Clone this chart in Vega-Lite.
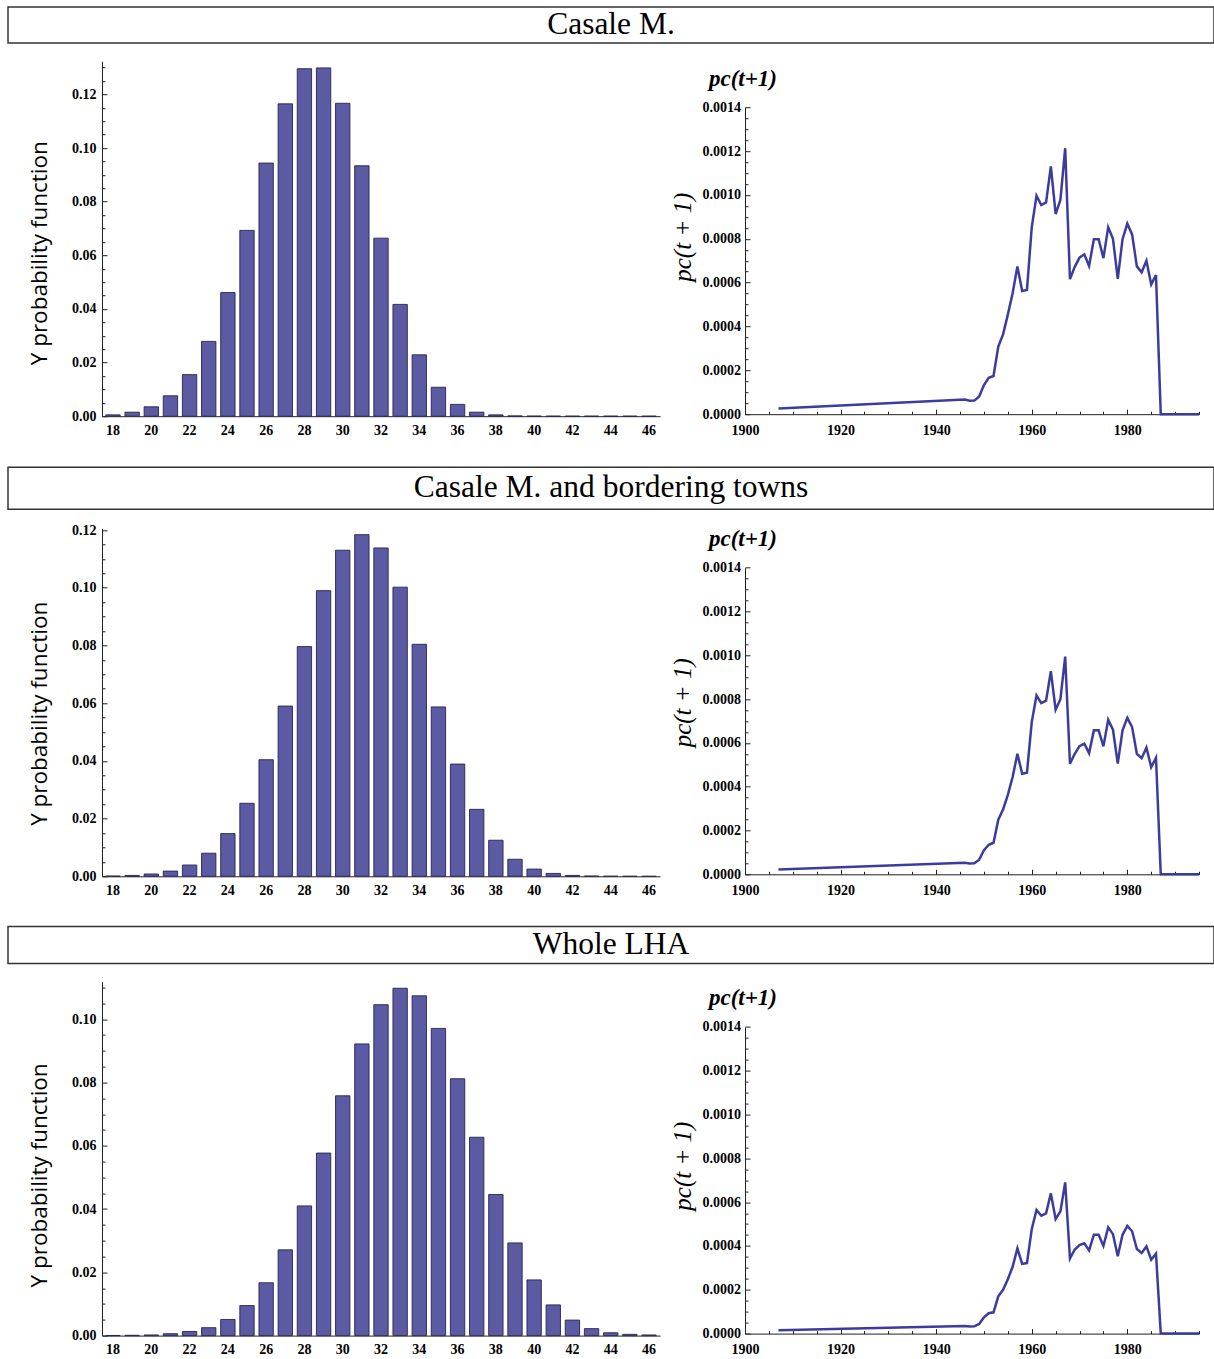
{
  "$schema": "https://vega.github.io/schema/vega-lite/v6.json",
  "padding": {"left": 7, "top": 6, "right": 0, "bottom": 0},
  "background": "white",
  "spacing": 26.3,
  "config": {
    "view": {"stroke": null},
    "axis": {
      "grid": false,
      "labelFont": "Liberation Serif",
      "labelFontWeight": "bold",
      "labelFontSize": 14,
      "labelColor": "black",
      "labelFlush": false,
      "domainColor": "#222",
      "domainWidth": 1,
      "tickColor": "#222",
      "tickWidth": 1,
      "labelOverlap": false
    }
  },
  "datasets": {
    "regions": [
      {"region": "Casale M."},
      {"region": "Casale M. and bordering towns"},
      {"region": "Whole LHA"}
    ],
    "pmf": [
      {"region": "Casale M.", "age": 18, "p": 0.0005},
      {"region": "Casale M.", "age": 19, "p": 0.0015},
      {"region": "Casale M.", "age": 20, "p": 0.0035},
      {"region": "Casale M.", "age": 21, "p": 0.0076},
      {"region": "Casale M.", "age": 22, "p": 0.0155},
      {"region": "Casale M.", "age": 23, "p": 0.0279},
      {"region": "Casale M.", "age": 24, "p": 0.0461},
      {"region": "Casale M.", "age": 25, "p": 0.0693},
      {"region": "Casale M.", "age": 26, "p": 0.0944},
      {"region": "Casale M.", "age": 27, "p": 0.1165},
      {"region": "Casale M.", "age": 28, "p": 0.1296},
      {"region": "Casale M.", "age": 29, "p": 0.1299},
      {"region": "Casale M.", "age": 30, "p": 0.1167},
      {"region": "Casale M.", "age": 31, "p": 0.0934},
      {"region": "Casale M.", "age": 32, "p": 0.0664},
      {"region": "Casale M.", "age": 33, "p": 0.0417},
      {"region": "Casale M.", "age": 34, "p": 0.0229},
      {"region": "Casale M.", "age": 35, "p": 0.0108},
      {"region": "Casale M.", "age": 36, "p": 0.0044},
      {"region": "Casale M.", "age": 37, "p": 0.0015},
      {"region": "Casale M.", "age": 38, "p": 0.0005},
      {"region": "Casale M.", "age": 39, "p": 0.0001},
      {"region": "Casale M.", "age": 40, "p": 0.00003},
      {"region": "Casale M.", "age": 41, "p": 0.00001},
      {"region": "Casale M.", "age": 42, "p": 0},
      {"region": "Casale M.", "age": 43, "p": 0},
      {"region": "Casale M.", "age": 44, "p": 0},
      {"region": "Casale M.", "age": 45, "p": 0},
      {"region": "Casale M.", "age": 46, "p": 0},
      {"region": "Casale M. and bordering towns", "age": 18, "p": 0.0001},
      {"region": "Casale M. and bordering towns", "age": 19, "p": 0.0003},
      {"region": "Casale M. and bordering towns", "age": 20, "p": 0.0008},
      {"region": "Casale M. and bordering towns", "age": 21, "p": 0.0018},
      {"region": "Casale M. and bordering towns", "age": 22, "p": 0.0039},
      {"region": "Casale M. and bordering towns", "age": 23, "p": 0.008},
      {"region": "Casale M. and bordering towns", "age": 24, "p": 0.0148},
      {"region": "Casale M. and bordering towns", "age": 25, "p": 0.0253},
      {"region": "Casale M. and bordering towns", "age": 26, "p": 0.0404},
      {"region": "Casale M. and bordering towns", "age": 27, "p": 0.059},
      {"region": "Casale M. and bordering towns", "age": 28, "p": 0.0796},
      {"region": "Casale M. and bordering towns", "age": 29, "p": 0.099},
      {"region": "Casale M. and bordering towns", "age": 30, "p": 0.113},
      {"region": "Casale M. and bordering towns", "age": 31, "p": 0.1184},
      {"region": "Casale M. and bordering towns", "age": 32, "p": 0.1138},
      {"region": "Casale M. and bordering towns", "age": 33, "p": 0.1002},
      {"region": "Casale M. and bordering towns", "age": 34, "p": 0.0804},
      {"region": "Casale M. and bordering towns", "age": 35, "p": 0.0587},
      {"region": "Casale M. and bordering towns", "age": 36, "p": 0.0389},
      {"region": "Casale M. and bordering towns", "age": 37, "p": 0.0232},
      {"region": "Casale M. and bordering towns", "age": 38, "p": 0.0125},
      {"region": "Casale M. and bordering towns", "age": 39, "p": 0.0059},
      {"region": "Casale M. and bordering towns", "age": 40, "p": 0.0025},
      {"region": "Casale M. and bordering towns", "age": 41, "p": 0.001},
      {"region": "Casale M. and bordering towns", "age": 42, "p": 0.0003},
      {"region": "Casale M. and bordering towns", "age": 43, "p": 0.0001},
      {"region": "Casale M. and bordering towns", "age": 44, "p": 0.00003},
      {"region": "Casale M. and bordering towns", "age": 45, "p": 0.00001},
      {"region": "Casale M. and bordering towns", "age": 46, "p": 0},
      {"region": "Whole LHA", "age": 18, "p": 0.00005},
      {"region": "Whole LHA", "age": 19, "p": 0.0001},
      {"region": "Whole LHA", "age": 20, "p": 0.0002},
      {"region": "Whole LHA", "age": 21, "p": 0.0006},
      {"region": "Whole LHA", "age": 22, "p": 0.0013},
      {"region": "Whole LHA", "age": 23, "p": 0.0025},
      {"region": "Whole LHA", "age": 24, "p": 0.0051},
      {"region": "Whole LHA", "age": 25, "p": 0.0095},
      {"region": "Whole LHA", "age": 26, "p": 0.0167},
      {"region": "Whole LHA", "age": 27, "p": 0.0271},
      {"region": "Whole LHA", "age": 28, "p": 0.041},
      {"region": "Whole LHA", "age": 29, "p": 0.0577},
      {"region": "Whole LHA", "age": 30, "p": 0.0758},
      {"region": "Whole LHA", "age": 31, "p": 0.0922},
      {"region": "Whole LHA", "age": 32, "p": 0.1046},
      {"region": "Whole LHA", "age": 33, "p": 0.1098},
      {"region": "Whole LHA", "age": 34, "p": 0.1074},
      {"region": "Whole LHA", "age": 35, "p": 0.0971},
      {"region": "Whole LHA", "age": 36, "p": 0.0812},
      {"region": "Whole LHA", "age": 37, "p": 0.0627},
      {"region": "Whole LHA", "age": 38, "p": 0.0446},
      {"region": "Whole LHA", "age": 39, "p": 0.0293},
      {"region": "Whole LHA", "age": 40, "p": 0.0176},
      {"region": "Whole LHA", "age": 41, "p": 0.0097},
      {"region": "Whole LHA", "age": 42, "p": 0.0049},
      {"region": "Whole LHA", "age": 43, "p": 0.0022},
      {"region": "Whole LHA", "age": 44, "p": 0.0009},
      {"region": "Whole LHA", "age": 45, "p": 0.0004},
      {"region": "Whole LHA", "age": 46, "p": 0.0002}
    ],
    "pc": [
      {"region": "Casale M.", "year": 1907, "pc": 0.000026},
      {"region": "Casale M.", "year": 1946, "pc": 0.0000667},
      {"region": "Casale M.", "year": 1947, "pc": 0.000061},
      {"region": "Casale M.", "year": 1948, "pc": 0.000062},
      {"region": "Casale M.", "year": 1949, "pc": 0.000081},
      {"region": "Casale M.", "year": 1950, "pc": 0.000133},
      {"region": "Casale M.", "year": 1951, "pc": 0.000166},
      {"region": "Casale M.", "year": 1952, "pc": 0.000174},
      {"region": "Casale M.", "year": 1953, "pc": 0.000308},
      {"region": "Casale M.", "year": 1954, "pc": 0.000364},
      {"region": "Casale M.", "year": 1955, "pc": 0.000454},
      {"region": "Casale M.", "year": 1956, "pc": 0.000552},
      {"region": "Casale M.", "year": 1957, "pc": 0.000674},
      {"region": "Casale M.", "year": 1958, "pc": 0.000562},
      {"region": "Casale M.", "year": 1959, "pc": 0.000567},
      {"region": "Casale M.", "year": 1960, "pc": 0.000852},
      {"region": "Casale M.", "year": 1961, "pc": 0.000996},
      {"region": "Casale M.", "year": 1962, "pc": 0.000954},
      {"region": "Casale M.", "year": 1963, "pc": 0.000966},
      {"region": "Casale M.", "year": 1964, "pc": 0.00113},
      {"region": "Casale M.", "year": 1965, "pc": 0.000913},
      {"region": "Casale M.", "year": 1966, "pc": 0.000977},
      {"region": "Casale M.", "year": 1967, "pc": 0.001213},
      {"region": "Casale M.", "year": 1968, "pc": 0.000616},
      {"region": "Casale M.", "year": 1969, "pc": 0.000672},
      {"region": "Casale M.", "year": 1970, "pc": 0.000714},
      {"region": "Casale M.", "year": 1971, "pc": 0.000729},
      {"region": "Casale M.", "year": 1972, "pc": 0.000676},
      {"region": "Casale M.", "year": 1973, "pc": 0.000798},
      {"region": "Casale M.", "year": 1974, "pc": 0.000798},
      {"region": "Casale M.", "year": 1975, "pc": 0.000712},
      {"region": "Casale M.", "year": 1976, "pc": 0.000852},
      {"region": "Casale M.", "year": 1977, "pc": 0.0008},
      {"region": "Casale M.", "year": 1978, "pc": 0.000617},
      {"region": "Casale M.", "year": 1979, "pc": 0.000798},
      {"region": "Casale M.", "year": 1980, "pc": 0.000869},
      {"region": "Casale M.", "year": 1981, "pc": 0.00082},
      {"region": "Casale M.", "year": 1982, "pc": 0.000674},
      {"region": "Casale M.", "year": 1983, "pc": 0.000647},
      {"region": "Casale M.", "year": 1984, "pc": 0.0007},
      {"region": "Casale M.", "year": 1985, "pc": 0.000592},
      {"region": "Casale M.", "year": 1986, "pc": 0.000635},
      {"region": "Casale M.", "year": 1987, "pc": 0},
      {"region": "Casale M.", "year": 1995, "pc": 0},
      {"region": "Casale M. and bordering towns", "year": 1907, "pc": 0.000022},
      {"region": "Casale M. and bordering towns", "year": 1946, "pc": 0.000053},
      {"region": "Casale M. and bordering towns", "year": 1947, "pc": 0.000049},
      {"region": "Casale M. and bordering towns", "year": 1948, "pc": 0.00005},
      {"region": "Casale M. and bordering towns", "year": 1949, "pc": 0.000067},
      {"region": "Casale M. and bordering towns", "year": 1950, "pc": 0.00011},
      {"region": "Casale M. and bordering towns", "year": 1951, "pc": 0.000135},
      {"region": "Casale M. and bordering towns", "year": 1952, "pc": 0.000144},
      {"region": "Casale M. and bordering towns", "year": 1953, "pc": 0.000249},
      {"region": "Casale M. and bordering towns", "year": 1954, "pc": 0.000296},
      {"region": "Casale M. and bordering towns", "year": 1955, "pc": 0.000363},
      {"region": "Casale M. and bordering towns", "year": 1956, "pc": 0.000444},
      {"region": "Casale M. and bordering towns", "year": 1957, "pc": 0.00055},
      {"region": "Casale M. and bordering towns", "year": 1958, "pc": 0.000459},
      {"region": "Casale M. and bordering towns", "year": 1959, "pc": 0.000464},
      {"region": "Casale M. and bordering towns", "year": 1960, "pc": 0.000695},
      {"region": "Casale M. and bordering towns", "year": 1961, "pc": 0.000816},
      {"region": "Casale M. and bordering towns", "year": 1962, "pc": 0.000781},
      {"region": "Casale M. and bordering towns", "year": 1963, "pc": 0.000793},
      {"region": "Casale M. and bordering towns", "year": 1964, "pc": 0.000927},
      {"region": "Casale M. and bordering towns", "year": 1965, "pc": 0.000751},
      {"region": "Casale M. and bordering towns", "year": 1966, "pc": 0.000799},
      {"region": "Casale M. and bordering towns", "year": 1967, "pc": 0.000994},
      {"region": "Casale M. and bordering towns", "year": 1968, "pc": 0.000505},
      {"region": "Casale M. and bordering towns", "year": 1969, "pc": 0.00055},
      {"region": "Casale M. and bordering towns", "year": 1970, "pc": 0.000585},
      {"region": "Casale M. and bordering towns", "year": 1971, "pc": 0.000596},
      {"region": "Casale M. and bordering towns", "year": 1972, "pc": 0.000553},
      {"region": "Casale M. and bordering towns", "year": 1973, "pc": 0.000657},
      {"region": "Casale M. and bordering towns", "year": 1974, "pc": 0.000657},
      {"region": "Casale M. and bordering towns", "year": 1975, "pc": 0.000584},
      {"region": "Casale M. and bordering towns", "year": 1976, "pc": 0.000705},
      {"region": "Casale M. and bordering towns", "year": 1977, "pc": 0.00066},
      {"region": "Casale M. and bordering towns", "year": 1978, "pc": 0.000505},
      {"region": "Casale M. and bordering towns", "year": 1979, "pc": 0.000657},
      {"region": "Casale M. and bordering towns", "year": 1980, "pc": 0.000714},
      {"region": "Casale M. and bordering towns", "year": 1981, "pc": 0.000672},
      {"region": "Casale M. and bordering towns", "year": 1982, "pc": 0.00055},
      {"region": "Casale M. and bordering towns", "year": 1983, "pc": 0.00053},
      {"region": "Casale M. and bordering towns", "year": 1984, "pc": 0.000578},
      {"region": "Casale M. and bordering towns", "year": 1985, "pc": 0.000489},
      {"region": "Casale M. and bordering towns", "year": 1986, "pc": 0.000532},
      {"region": "Casale M. and bordering towns", "year": 1987, "pc": 0},
      {"region": "Casale M. and bordering towns", "year": 1995, "pc": 0},
      {"region": "Whole LHA", "year": 1907, "pc": 0.000015},
      {"region": "Whole LHA", "year": 1946, "pc": 0.000035},
      {"region": "Whole LHA", "year": 1947, "pc": 0.000032},
      {"region": "Whole LHA", "year": 1948, "pc": 0.000033},
      {"region": "Whole LHA", "year": 1949, "pc": 0.000044},
      {"region": "Whole LHA", "year": 1950, "pc": 0.000074},
      {"region": "Whole LHA", "year": 1951, "pc": 0.000093},
      {"region": "Whole LHA", "year": 1952, "pc": 0.000097},
      {"region": "Whole LHA", "year": 1953, "pc": 0.00017},
      {"region": "Whole LHA", "year": 1954, "pc": 0.0002},
      {"region": "Whole LHA", "year": 1955, "pc": 0.000248},
      {"region": "Whole LHA", "year": 1956, "pc": 0.000305},
      {"region": "Whole LHA", "year": 1957, "pc": 0.000389},
      {"region": "Whole LHA", "year": 1958, "pc": 0.000318},
      {"region": "Whole LHA", "year": 1959, "pc": 0.000322},
      {"region": "Whole LHA", "year": 1960, "pc": 0.000476},
      {"region": "Whole LHA", "year": 1961, "pc": 0.000564},
      {"region": "Whole LHA", "year": 1962, "pc": 0.000538},
      {"region": "Whole LHA", "year": 1963, "pc": 0.000549},
      {"region": "Whole LHA", "year": 1964, "pc": 0.00064},
      {"region": "Whole LHA", "year": 1965, "pc": 0.000523},
      {"region": "Whole LHA", "year": 1966, "pc": 0.000558},
      {"region": "Whole LHA", "year": 1967, "pc": 0.00069},
      {"region": "Whole LHA", "year": 1968, "pc": 0.000343},
      {"region": "Whole LHA", "year": 1969, "pc": 0.000384},
      {"region": "Whole LHA", "year": 1970, "pc": 0.000404},
      {"region": "Whole LHA", "year": 1971, "pc": 0.000412},
      {"region": "Whole LHA", "year": 1972, "pc": 0.00038},
      {"region": "Whole LHA", "year": 1973, "pc": 0.000451},
      {"region": "Whole LHA", "year": 1974, "pc": 0.000451},
      {"region": "Whole LHA", "year": 1975, "pc": 0.0004},
      {"region": "Whole LHA", "year": 1976, "pc": 0.000485},
      {"region": "Whole LHA", "year": 1977, "pc": 0.000454},
      {"region": "Whole LHA", "year": 1978, "pc": 0.000353},
      {"region": "Whole LHA", "year": 1979, "pc": 0.000451},
      {"region": "Whole LHA", "year": 1980, "pc": 0.000492},
      {"region": "Whole LHA", "year": 1981, "pc": 0.000467},
      {"region": "Whole LHA", "year": 1982, "pc": 0.000386},
      {"region": "Whole LHA", "year": 1983, "pc": 0.000368},
      {"region": "Whole LHA", "year": 1984, "pc": 0.000398},
      {"region": "Whole LHA", "year": 1985, "pc": 0.000337},
      {"region": "Whole LHA", "year": 1986, "pc": 0.000365},
      {"region": "Whole LHA", "year": 1987, "pc": 0},
      {"region": "Whole LHA", "year": 1995, "pc": 0}
    ]
  },
  "vconcat": [
    {
      "spacing": 16.2,
      "vconcat": [
        {
          "width": 1206, "height": 36,
          "view": {"stroke": "#333", "strokeWidth": 1.5},
          "data": {"name": "regions"},
          "transform": [{"filter": "datum.region == 'Casale M.'"}],
          "mark": {"type": "text", "font": "Liberation Serif", "fontSize": 31.5, "color": "black"},
          "encoding": {"text": {"field": "region"}}
        },
        {
          "columns": 3, "spacing": 10,
          "concat": [
            {
              "width": 9.5, "height": 10,
              "data": {"name": "regions"},
              "transform": [{"filter": "false"}],
              "mark": {"type": "point", "opacity": 0},
              "encoding": {}
            },
            {
              "width": 558, "height": 355,
              "data": {"name": "pmf"},
              "transform": [{"filter": "datum.region == 'Casale M.'"}],
              "mark": {"type": "bar", "color": "#5b5aa3", "stroke": "#262650", "strokeWidth": 0.9},
              "encoding": {
                "x": {"field": "age", "type": "ordinal", "scale": {"paddingInner": 0.25, "paddingOuter": 0.2},
                  "axis": {"title": null, "labelAngle": 0, "ticks": false, "labelPadding": 7, "labelExpr": "datum.value % 2 == 0 ? datum.label : ''"}},
                "y": {"field": "p", "type": "quantitative", "scale": {"domain": [0, 0.1324], "nice": false},
                  "axis": {"title": "Y probability function", "titleFont": "Open Sans", "titleFontSize": 22.5, "titleFontWeight": "normal", "titleColor": "black", "titlePadding": 20, "titleY": 191.5,
                    "values": [0,0.005,0.01,0.015,0.02,0.025,0.03,0.035,0.04,0.045,0.05,0.055,0.06,0.065,0.07,0.075,0.08,0.085,0.09,0.095,0.1,0.105,0.11,0.115,0.12,0.125,0.13],
                    "labelExpr": "round(datum.value*1000) % 20 == 0 ? format(datum.value, '.2f') : ''",
                    "tickSize": {"condition": {"test": "round(datum.value*1000) % 20 == 0", "value": -5}, "value": -3},
                    "labelPadding": 11}}
              }
            },
            {
              "width": 454, "height": 353,
              "title": {"text": "pc(t+1)", "anchor": "start", "frame": "group", "dx": -36, "font": "Liberation Serif", "fontSize": 23, "fontStyle": "italic", "fontWeight": "bold", "color": "black", "offset": -29.5},
              "data": {"name": "pc"},
              "transform": [{"filter": "datum.region == 'Casale M.'"}],
              "mark": {"type": "line", "color": "#3c3c9e", "strokeWidth": 2.5},
              "encoding": {
                "x": {"field": "year", "type": "quantitative", "scale": {"domain": [1900, 1995], "nice": false, "zero": false},
                  "axis": {"title": null, "values": [1900,1905,1910,1915,1920,1925,1930,1935,1940,1945,1950,1955,1960,1965,1970,1975,1980,1985,1990,1995],
                    "labelExpr": "datum.value % 20 == 0 ? format(datum.value, 'd') : ''",
                    "tickSize": {"condition": {"test": "datum.value % 20 == 0", "value": -5}, "value": -3},
                    "labelPadding": 14}},
                "y": {"field": "pc", "type": "quantitative", "scale": {"domain": [0, 0.0014], "range": [353, 46], "nice": false},
                  "axis": {"title": "pc(t + 1)", "titleFont": "Liberation Serif", "titleFontSize": 25, "titleFontStyle": "italic", "titleFontWeight": "normal", "titleColor": "black", "titleY": 175.5, "titlePadding": 7,
                    "values": [0,0.00005,0.0001,0.00015,0.0002,0.00025,0.0003,0.00035,0.0004,0.00045,0.0005,0.00055,0.0006,0.00065,0.0007,0.00075,0.0008,0.00085,0.0009,0.00095,0.001,0.00105,0.0011,0.00115,0.0012,0.00125,0.0013,0.00135,0.0014],
                    "labelExpr": "round(datum.value*100000) % 20 == 0 ? format(datum.value, '.4f') : ''",
                    "tickSize": {"condition": {"test": "round(datum.value*100000) % 20 == 0", "value": -5}, "value": -3},
                    "labelPadding": 9.5}}
              }
            }
          ]
        }
      ]
    },
    {
      "spacing": 12,
      "vconcat": [
        {
          "width": 1206, "height": 42,
          "view": {"stroke": "#333", "strokeWidth": 1.5},
          "data": {"name": "regions"},
          "transform": [{"filter": "datum.region == 'Casale M. and bordering towns'"}],
          "mark": {"type": "text", "font": "Liberation Serif", "fontSize": 31.5, "color": "black"},
          "encoding": {"text": {"field": "region"}}
        },
        {
          "columns": 3, "spacing": 10,
          "concat": [
            {
              "width": 9.5, "height": 10,
              "data": {"name": "regions"},
              "transform": [{"filter": "false"}],
              "mark": {"type": "point", "opacity": 0},
              "encoding": {}
            },
            {
              "width": 558, "height": 348,
              "data": {"name": "pmf"},
              "transform": [{"filter": "datum.region == 'Casale M. and bordering towns'"}],
              "mark": {"type": "bar", "color": "#5b5aa3", "stroke": "#262650", "strokeWidth": 0.9},
              "encoding": {
                "x": {"field": "age", "type": "ordinal", "scale": {"paddingInner": 0.25, "paddingOuter": 0.2},
                  "axis": {"title": null, "labelAngle": 0, "ticks": false, "labelPadding": 7, "labelExpr": "datum.value % 2 == 0 ? datum.label : ''"}},
                "y": {"field": "p", "type": "quantitative", "scale": {"domain": [0, 0.1206], "nice": false},
                  "axis": {"title": "Y probability function", "titleFont": "Open Sans", "titleFontSize": 22.5, "titleFontWeight": "normal", "titleColor": "black", "titlePadding": 20, "titleY": 185,
                    "values": [0,0.005,0.01,0.015,0.02,0.025,0.03,0.035,0.04,0.045,0.05,0.055,0.06,0.065,0.07,0.075,0.08,0.085,0.09,0.095,0.1,0.105,0.11,0.115,0.12],
                    "labelExpr": "round(datum.value*1000) % 20 == 0 ? format(datum.value, '.2f') : ''",
                    "tickSize": {"condition": {"test": "round(datum.value*1000) % 20 == 0", "value": -5}, "value": -3},
                    "labelPadding": 11}}
              }
            },
            {
              "width": 454, "height": 346,
              "title": {"text": "pc(t+1)", "anchor": "start", "frame": "group", "dx": -36, "font": "Liberation Serif", "fontSize": 23, "fontStyle": "italic", "fontWeight": "bold", "color": "black", "offset": -22.8},
              "data": {"name": "pc"},
              "transform": [{"filter": "datum.region == 'Casale M. and bordering towns'"}],
              "mark": {"type": "line", "color": "#3c3c9e", "strokeWidth": 2.5},
              "encoding": {
                "x": {"field": "year", "type": "quantitative", "scale": {"domain": [1900, 1995], "nice": false, "zero": false},
                  "axis": {"title": null, "values": [1900,1905,1910,1915,1920,1925,1930,1935,1940,1945,1950,1955,1960,1965,1970,1975,1980,1985,1990,1995],
                    "labelExpr": "datum.value % 20 == 0 ? format(datum.value, 'd') : ''",
                    "tickSize": {"condition": {"test": "datum.value % 20 == 0", "value": -5}, "value": -3},
                    "labelPadding": 14}},
                "y": {"field": "pc", "type": "quantitative", "scale": {"domain": [0, 0.0014], "range": [346, 39.3], "nice": false},
                  "axis": {"title": "pc(t + 1)", "titleFont": "Liberation Serif", "titleFontSize": 25, "titleFontStyle": "italic", "titleFontWeight": "normal", "titleColor": "black", "titleY": 174, "titlePadding": 7,
                    "values": [0,0.00005,0.0001,0.00015,0.0002,0.00025,0.0003,0.00035,0.0004,0.00045,0.0005,0.00055,0.0006,0.00065,0.0007,0.00075,0.0008,0.00085,0.0009,0.00095,0.001,0.00105,0.0011,0.00115,0.0012,0.00125,0.0013,0.00135,0.0014],
                    "labelExpr": "round(datum.value*100000) % 20 == 0 ? format(datum.value, '.4f') : ''",
                    "tickSize": {"condition": {"test": "round(datum.value*100000) % 20 == 0", "value": -5}, "value": -3},
                    "labelPadding": 9.5}}
              }
            }
          ]
        }
      ]
    },
    {
      "spacing": 16,
      "vconcat": [
        {
          "width": 1206, "height": 37,
          "view": {"stroke": "#333", "strokeWidth": 1.5},
          "data": {"name": "regions"},
          "transform": [{"filter": "datum.region == 'Whole LHA'"}],
          "mark": {"type": "text", "font": "Liberation Serif", "fontSize": 31.5, "color": "black"},
          "encoding": {"text": {"field": "region"}}
        },
        {
          "columns": 3, "spacing": 10,
          "concat": [
            {
              "width": 9.5, "height": 10,
              "data": {"name": "regions"},
              "transform": [{"filter": "false"}],
              "mark": {"type": "point", "opacity": 0},
              "encoding": {}
            },
            {
              "width": 558, "height": 354,
              "data": {"name": "pmf"},
              "transform": [{"filter": "datum.region == 'Whole LHA'"}],
              "mark": {"type": "bar", "color": "#5b5aa3", "stroke": "#262650", "strokeWidth": 0.9},
              "encoding": {
                "x": {"field": "age", "type": "ordinal", "scale": {"paddingInner": 0.25, "paddingOuter": 0.2},
                  "axis": {"title": null, "labelAngle": 0, "ticks": false, "labelPadding": 7, "labelExpr": "datum.value % 2 == 0 ? datum.label : ''"}},
                "y": {"field": "p", "type": "quantitative", "scale": {"domain": [0, 0.1119], "nice": false},
                  "axis": {"title": "Y probability function", "titleFont": "Open Sans", "titleFontSize": 22.5, "titleFontWeight": "normal", "titleColor": "black", "titlePadding": 20, "titleY": 193.3,
                    "values": [0,0.005,0.01,0.015,0.02,0.025,0.03,0.035,0.04,0.045,0.05,0.055,0.06,0.065,0.07,0.075,0.08,0.085,0.09,0.095,0.1,0.105,0.11],
                    "labelExpr": "round(datum.value*1000) % 20 == 0 ? format(datum.value, '.2f') : ''",
                    "tickSize": {"condition": {"test": "round(datum.value*1000) % 20 == 0", "value": -5}, "value": -3},
                    "labelPadding": 11}}
              }
            },
            {
              "width": 454, "height": 352,
              "title": {"text": "pc(t+1)", "anchor": "start", "frame": "group", "dx": -36, "font": "Liberation Serif", "fontSize": 23, "fontStyle": "italic", "fontWeight": "bold", "color": "black", "offset": -28.8},
              "data": {"name": "pc"},
              "transform": [{"filter": "datum.region == 'Whole LHA'"}],
              "mark": {"type": "line", "color": "#3c3c9e", "strokeWidth": 2.5},
              "encoding": {
                "x": {"field": "year", "type": "quantitative", "scale": {"domain": [1900, 1995], "nice": false, "zero": false},
                  "axis": {"title": null, "values": [1900,1905,1910,1915,1920,1925,1930,1935,1940,1945,1950,1955,1960,1965,1970,1975,1980,1985,1990,1995],
                    "labelExpr": "datum.value % 20 == 0 ? format(datum.value, 'd') : ''",
                    "tickSize": {"condition": {"test": "datum.value % 20 == 0", "value": -5}, "value": -3},
                    "labelPadding": 14}},
                "y": {"field": "pc", "type": "quantitative", "scale": {"domain": [0, 0.0014], "range": [352, 45.3], "nice": false},
                  "axis": {"title": "pc(t + 1)", "titleFont": "Liberation Serif", "titleFontSize": 25, "titleFontStyle": "italic", "titleFontWeight": "normal", "titleColor": "black", "titleY": 184, "titlePadding": 7,
                    "values": [0,0.00005,0.0001,0.00015,0.0002,0.00025,0.0003,0.00035,0.0004,0.00045,0.0005,0.00055,0.0006,0.00065,0.0007,0.00075,0.0008,0.00085,0.0009,0.00095,0.001,0.00105,0.0011,0.00115,0.0012,0.00125,0.0013,0.00135,0.0014],
                    "labelExpr": "round(datum.value*100000) % 20 == 0 ? format(datum.value, '.4f') : ''",
                    "tickSize": {"condition": {"test": "round(datum.value*100000) % 20 == 0", "value": -5}, "value": -3},
                    "labelPadding": 9.5}}
              }
            }
          ]
        }
      ]
    }
  ]
}
